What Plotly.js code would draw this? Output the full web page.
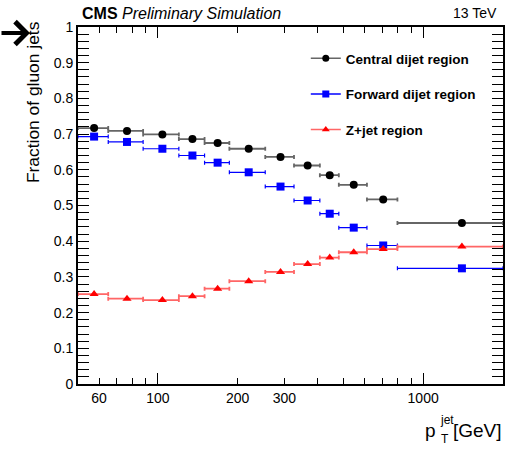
<!DOCTYPE html>
<html>
<head>
<meta charset="utf-8">
<script src="https://cdn.plot.ly/plotly-3.0.1.min.js"></script>
<style>html,body{margin:0;padding:0;background:#fff;}#chart{width:520px;height:450px;}</style>
</head>
<body>
<div id="chart"></div>
<script>
// pT bin edges (GeV)
const binEdges = [50, 65, 88, 120, 150, 186, 254, 326, 408, 481, 614, 800, 2000];
// Fraction of gluon jets per bin
const centralDijet = [0.717, 0.709, 0.699, 0.686, 0.675, 0.659, 0.636, 0.612, 0.585, 0.558, 0.517, 0.451];
const forwardDijet = [0.693, 0.678, 0.659, 0.640, 0.620, 0.593, 0.553, 0.514, 0.477, 0.438, 0.388, 0.324];
const zJet         = [0.252, 0.239, 0.235, 0.246, 0.267, 0.288, 0.314, 0.336, 0.354, 0.369, 0.378, 0.385];
const seriesNames = ['Central dijet region', 'Forward dijet region', 'Z+jet region'];
const xMajorTicks = [100, 1000];
const xExtraLabels = [60, 200, 300];
const xMinorTicks = [50, 60, 70, 80, 90, 200, 300, 400, 500, 600, 700, 800, 900, 2000];

const lo = binEdges.slice(0, -1);
const hi = binEdges.slice(1);
const centers = lo.map((l, i) => (l + hi[i]) / 2);
const errPlus = centers.map((c, i) => hi[i] - c);
const errMinus = centers.map((c, i) => c - lo[i]);

const FONT = 'Liberation Sans, Arial, Helvetica, sans-serif';

function dataTrace(y, color, errColor, errThick, symbol, size) {
  return {
    x: centers, y: y, type: 'scatter', mode: 'markers',
    marker: {color: color, symbol: symbol, size: size},
    error_x: {type: 'data', symmetric: false, array: errPlus, arrayminus: errMinus,
              color: errColor, thickness: errThick, width: 2},
    showlegend: false, hoverinfo: 'x+y'
  };
}
function legendTrace(name, color, lineColor, symbol, size, grp) {
  return {
    x: [null], y: [null], type: 'scatter', mode: 'lines+markers', name: name,
    legendgroup: grp,
    line: {color: lineColor, width: 1.5},
    marker: {color: color, symbol: symbol, size: size}
  };
}

const traces = [
  dataTrace(centralDijet, '#000000', '#666666', 1.8, 'circle', 8),
  dataTrace(forwardDijet, '#0000ff', '#0000ff', 1.2, 'square', 8),
  dataTrace(zJet, '#ff0000', '#ff6666', 1.8, 'triangle-up', 8),
  legendTrace(seriesNames[0], '#000000', '#666666', 'circle', 7, 'a'),
  legendTrace(seriesNames[1], '#0000ff', '#0000ff', 'square', 7, 'b'),
  legendTrace(seriesNames[2], '#ff0000', '#ff6666', 'triangle-up', 7, 'c'),
  // empty helper trace so the label-only overlay axis is drawn
  {x: [null], y: [null], type: 'scatter', mode: 'markers', xaxis: 'x2', yaxis: 'y', showlegend: false, hoverinfo: 'skip'}
];

const xRange = [Math.log10(binEdges[0]), Math.log10(binEdges[binEdges.length - 1])];

const layout = {
  width: 520, height: 450,
  margin: {l: 78, r: 17, t: 27, b: 66},
  paper_bgcolor: '#ffffff', plot_bgcolor: '#ffffff',
  font: {family: FONT, size: 14, color: '#000'},
  showlegend: true,
  legend: {x: 0.536, y: 0.955, xanchor: 'left', yanchor: 'top',
           bgcolor: 'rgba(0,0,0,0)', font: {family: FONT, size: 13.5, weight: 'bold'},
           tracegroupgap: 15, traceorder: 'grouped'},
  xaxis: {
    type: 'log', range: xRange, showgrid: false, zeroline: false,
    showline: true, linecolor: '#000', linewidth: 2, mirror: 'allticks',
    tickmode: 'array', tickvals: xMajorTicks, ticktext: xMajorTicks.map(String),
    ticks: 'inside', ticklen: 11, tickwidth: 1, tickcolor: '#000',
    tickfont: {family: FONT, size: 14},
    minor: {tickmode: 'array', tickvals: xMinorTicks, ticks: 'inside', ticklen: 6, tickwidth: 1, tickcolor: '#000', showgrid: false}
  },
  xaxis2: {
    type: 'log', range: xRange, overlaying: 'x', anchor: 'y', side: 'bottom',
    showgrid: false, zeroline: false, showline: true, linecolor: 'rgba(0,0,0,0)', linewidth: 2,
    tickmode: 'array', tickvals: xExtraLabels, ticktext: xExtraLabels.map(String),
    ticks: 'inside', ticklen: 11, tickwidth: 1, tickcolor: 'rgba(0,0,0,0)',
    tickfont: {family: FONT, size: 14}
  },
  yaxis: {
    range: [0, 1], showgrid: false, zeroline: false,
    showline: true, linecolor: '#000', linewidth: 2, mirror: 'allticks',
    tickmode: 'linear', tick0: 0, dtick: 0.1,
    ticks: 'inside', ticklen: 11, tickwidth: 1, tickcolor: '#000',
    tickfont: {family: FONT, size: 14},
    minor: {dtick: 0.02, ticks: 'inside', ticklen: 6, tickwidth: 1, tickcolor: '#000', showgrid: false}
  },
  annotations: [
    {xref: 'paper', yref: 'paper', x: 0.005, y: 1.008, xanchor: 'left', yanchor: 'bottom',
     text: '<b>CMS</b> <i>Preliminary Simulation</i>', showarrow: false, font: {family: FONT, size: 16}},
    {xref: 'paper', yref: 'paper', x: 0.99, y: 1.012, xanchor: 'right', yanchor: 'bottom',
     text: '13 TeV', showarrow: false, font: {family: FONT, size: 14}},
    {xref: 'paper', yref: 'paper', x: -0.106, y: 1.022, xanchor: 'center', yanchor: 'top',
     text: 'Fraction of gluon jets', textangle: -90, showarrow: false, font: {family: FONT, size: 17.4}},
    {xref: 'paper', yref: 'paper', x: 1.003, y: -0.131, xanchor: 'right', yanchor: 'middle',
     text: '[GeV]', showarrow: false, font: {family: FONT, size: 19}},
    {xref: 'paper', yref: 'paper', x: 0.848, y: -0.131, xanchor: 'right', yanchor: 'middle',
     text: 'p', showarrow: false, font: {family: FONT, size: 19}},
    {xref: 'paper', yref: 'paper', x: 0.846, y: -0.101, xanchor: 'left', yanchor: 'middle',
     text: 'jet', showarrow: false, font: {family: FONT, size: 12}},
    {xref: 'paper', yref: 'paper', x: 0.849, y: -0.153, xanchor: 'left', yanchor: 'middle',
     text: 'T', showarrow: false, font: {family: FONT, size: 12}},
    {xref: 'paper', yref: 'paper', x: -0.113, y: 0.983, text: '', showarrow: true,
     ax: -30, ay: 0, arrowhead: 4, arrowsize: 1.1, arrowwidth: 4, arrowcolor: '#000', standoff: 0}
  ]
};

Plotly.newPlot('chart', traces, layout, {displayModeBar: false, staticPlot: true});
</script>
</body>
</html>
